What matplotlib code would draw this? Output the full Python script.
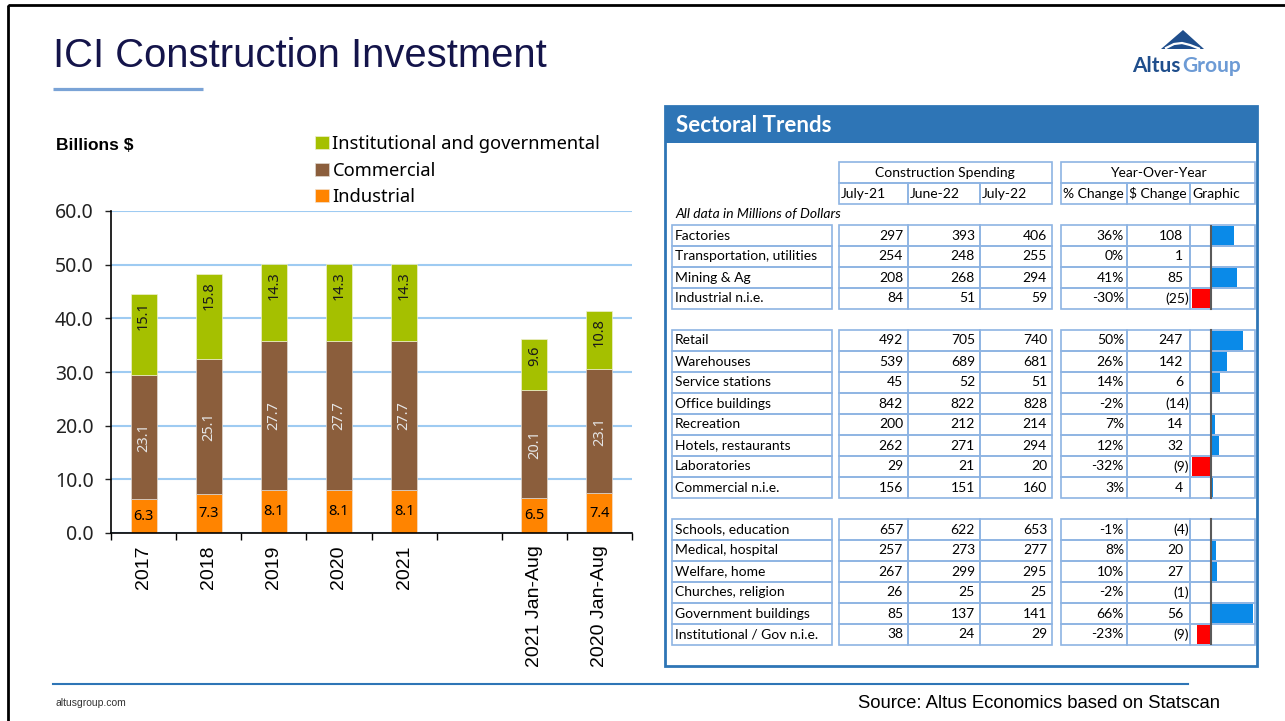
import numpy as np
import matplotlib.pyplot as plt
from matplotlib.patches import Rectangle, Polygon

W, H = 1285, 721

# left chart: ICI investment, billions $
periods = ['2017', '2018', '2019', '2020', '2021', '', '2021 Jan-Aug', '2020 Jan-Aug']
industrial = [6.3, 7.3, 8.1, 8.1, 8.1, np.nan, 6.5, 7.4]
commercial = [23.1, 25.1, 27.7, 27.7, 27.7, np.nan, 20.1, 23.1]
institutional = [15.1, 15.8, 14.3, 14.3, 14.3, np.nan, 9.6, 10.8]

# right table: sectoral trends, millions $
block_sizes = [4, 8, 6]
sectors = ['Factories', 'Transportation, utilities', 'Mining & Ag', 'Industrial n.i.e.',
           'Retail', 'Warehouses', 'Service stations', 'Office buildings',
           'Recreation', 'Hotels, restaurants', 'Laboratories', 'Commercial n.i.e.',
           'Schools, education', 'Medical, hospital', 'Welfare, home',
           'Churches, religion', 'Government buildings', 'Institutional / Gov n.i.e.']
jul21 = [297, 254, 208, 84, 492, 539, 45, 842, 200, 262, 29, 156, 657, 257, 267, 26, 85, 38]
jun22 = [393, 248, 268, 51, 705, 689, 52, 822, 212, 271, 21, 151, 622, 273, 299, 25, 137, 24]
jul22 = [406, 255, 294, 59, 740, 681, 51, 828, 214, 294, 20, 160, 653, 277, 295, 25, 141, 29]
pct_change = [36, 0, 41, -30, 50, 26, 14, -2, 7, 12, -32, 3, -1, 8, 10, -2, 66, -23]
dollar_change = [108, 1, 85, -25, 247, 142, 6, -14, 14, 32, -9, 4, -4, 20, 27, -1, 56, -9]

C_IND, C_COM, C_INS = '#ff8400', '#8b5e3c', '#a5c000'
BLUE = '#2e75b6'
CELL = '#8eb4e3'


def px(x0, y0, x1, y1):
    return [x0 / W, 1 - y1 / H, (x1 - x0) / W, (y1 - y0) / H]


fig = plt.figure(figsize=(W / 100, H / 100), dpi=100)

# background canvas in pixel units
cv = fig.add_axes([0, 0, 1, 1], zorder=0)
cv.set_xlim(0, W)
cv.set_ylim(H, 0)
cv.axis('off')

cv.add_patch(Rectangle((8, 5), W + 20, H + 20, fill=False, ec='black', lw=2))
cv.text(53, 56, 'ICI Construction Investment', fontsize=28.8, family='Liberation Sans',
        color='#14144a', va='center', ha='left')
cv.plot([53, 203], [89, 89], color='#7aa3d6', lw=2.3, solid_capstyle='butt')

# logo
cv.add_patch(Polygon([(1183, 30), (1161, 49), (1204, 49)], color='#1f4e8c', lw=0))
cv.plot([1166, 1174, 1182, 1190, 1199], [48, 44, 43, 45, 48.5], color='white', lw=1.6)
cv.text(1180, 66, 'Altus', fontsize=15, family='Lato', weight='bold',
        color='#1f4e8c', ha='right', va='center')
cv.text(1182, 66, 'Group', fontsize=15, family='Lato', weight='bold',
        color='#6d9bd5', ha='left', va='center')

cv.text(56, 145, 'Billions $', fontsize=12.5, family='Liberation Sans', weight='bold',
        va='center', ha='left')

# footer
cv.plot([53, 1188], [684, 684], color=BLUE, lw=1.5)
cv.text(55, 703, 'altusgroup.com', fontsize=7.5, family='Liberation Sans',
        color='#333333', va='center')
cv.text(1220, 703, 'Source: Altus Economics based on Statscan', fontsize=13.3,
        family='Liberation Sans', ha='right', va='center')

# stacked bars
ax = fig.add_axes(px(111, 211, 632, 533), zorder=2)
ax.set_facecolor('none')
x = np.arange(len(periods))
ind = np.array(industrial)
com = np.array(commercial)
ins = np.array(institutional)
b1 = ax.bar(x, ind, 0.4, color=C_IND, ec='#f0e0d0', lw=0.5, label='Industrial')
b2 = ax.bar(x, com, 0.4, bottom=ind, color=C_COM, ec='#e0d8d0', lw=0.5, label='Commercial')
b3 = ax.bar(x, ins, 0.4, bottom=ind + com, color=C_INS, ec='#eef0d0', lw=0.5,
            label='Institutional and governmental')

lab = dict(family='Noto Sans', fontsize=10.5)
for i in x:
    if np.isnan(ind[i]):
        continue
    ax.text(i, ind[i] / 2, f'{ind[i]:.1f}', ha='center', va='center', color='black', **lab)
    ax.text(i, ind[i] + com[i] / 2, f'{com[i]:.1f}', ha='center', va='center',
            rotation=90, color='#e6e6e6', **lab)
    ax.annotate(f'{ins[i]:.1f}', (i, ind[i] + com[i] + ins[i]), xytext=(0, -5),
                textcoords='offset points', ha='center', va='top', rotation=90,
                color='#1a1a1a', **lab)

ax.set_xlim(-0.5, len(periods) - 0.5)
ax.set_ylim(0, 60)
ax.set_yticks(np.arange(0, 61, 10))
ax.set_yticklabels([f'{v:.1f}' for v in np.arange(0, 61, 10)], family='Noto Sans', fontsize=14)
ax.set_xticks(x)
ax.set_xticklabels(periods, rotation=90, family='Liberation Sans', fontsize=14)
ax.set_xticks(np.arange(-0.5, len(periods)), minor=True)
ax.tick_params(axis='x', which='major', length=0, pad=9)
ax.tick_params(axis='x', which='minor', length=5, width=1, direction='out')
ax.tick_params(axis='y', length=4.5, width=1, pad=8, colors='#222222')
ax.yaxis.grid(True, color='#9ecbf2', lw=1.5)
ax.set_axisbelow(True)
for s in ['top', 'right']:
    ax.spines[s].set_visible(False)
for s in ['left', 'bottom']:
    ax.spines[s].set_linewidth(1.2)

fig.legend([b3, b2, b1], [b3.get_label(), b2.get_label(), b1.get_label()],
           loc='upper left', bbox_to_anchor=(315 / W, 1 - 135 / H), frameon=False,
           prop=dict(family='Noto Sans', size=13.2), handlelength=0.75, handleheight=0.7,
           handletextpad=0.2, labelspacing=0.47, borderpad=0, borderaxespad=0)

# sectoral trends panel
cv.add_patch(Rectangle((665, 106), 592, 37, color=BLUE, lw=0))
cv.add_patch(Rectangle((665, 106), 592, 560, fill=False, ec=BLUE, lw=2))
cv.text(676, 125, 'Sectoral Trends', fontsize=16, family='Lato', weight='bold',
        color='white', va='center')

tf = dict(family='Lato', fontsize=10, va='center')
label_col = (672, 832)
spend_cols = [(839, 908), (908, 980), (980, 1052)]
yoy_cols = [(1061, 1127), (1127, 1190), (1190, 1255)]


def cell(x0, x1, y0, y1):
    cv.add_patch(Rectangle((x0, y0), x1 - x0, y1 - y0, fill=False, ec=CELL, lw=1.2))


cell(839, 1052, 162, 183)
cell(1061, 1255, 162, 183)
cv.text(945, 173, 'Construction Spending', ha='center', **tf)
cv.text(1158, 173, 'Year-Over-Year', ha='center', **tf)
for (x0, x1), t in zip(spend_cols + yoy_cols,
                       ['July-21', 'June-22', 'July-22', '% Change', '$ Change', 'Graphic']):
    cell(x0, x1, 183, 204)
    cv.text(x0 + 2, 194, t, ha='left', **tf)
cv.text(675, 214, 'All data in Millions of Dollars', ha='left', style='italic', **tf)

top, rh = 225, 21
rows = []
r = 0
for n in block_sizes:
    rows += list(range(r, r + n))
    r += n + 1
n_rows = r - 1

for k, ri in enumerate(rows):
    y0 = top + ri * rh
    yc = y0 + rh / 2
    for x0, x1 in [label_col] + spend_cols + yoy_cols:
        cell(x0, x1, y0, y0 + rh)
    cv.text(label_col[0] + 3, yc, sectors[k], ha='left', **tf)
    for (x0, x1), v in zip(spend_cols, [jul21[k], jun22[k], jul22[k]]):
        cv.text(x1 - 5, yc, f'{v}', ha='right', **tf)
    cv.text(yoy_cols[0][1] - 3, yc, f'{pct_change[k]}%', ha='right', **tf)
    d = dollar_change[k]
    if d < 0:
        cv.text(yoy_cols[1][1] - 1, yc, f'({-d})', ha='right', **tf)
    else:
        cv.text(yoy_cols[1][1] - 7, yc, f'{d}', ha='right', **tf)

# graphic column: % change bars around a zero line
gx = fig.add_axes(px(1192, top, 1255, top + n_rows * rh), zorder=3)
gx.set_facecolor('none')
gx.axis('off')
scale = 0.63
gx.set_xlim(-19 / scale, 44 / scale)
gx.set_ylim(n_rows, 0)
rows_arr = np.array(rows)
pct = np.array(pct_change)
gx.barh(rows_arr + 0.5, pct, height=0.86,
        color=np.where(pct >= 0, '#0a8ae8', '#ff0000'), lw=0)
r = 0
for n in block_sizes:
    gx.plot([0, 0], [r, r + n], color='#5a5a5a', lw=1.5)
    r += n + 1

fig.savefig('out.png', dpi=100)
